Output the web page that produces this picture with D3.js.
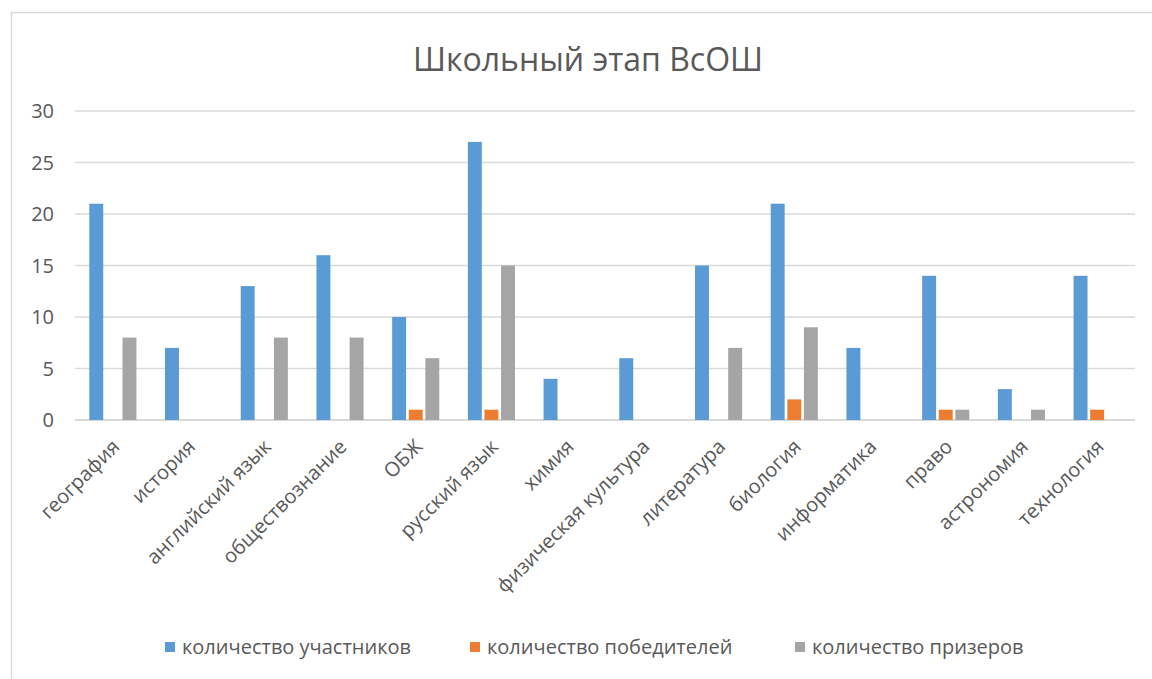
<!DOCTYPE html>
<html>
<head>
<meta charset="utf-8">
<style>
  body { margin: 0; background: #fff; }
  text { font-family: "Open Sans", sans-serif; fill: #595959; }
</style>
</head>
<body>
<svg width="1152" height="679"></svg>
<script src="https://d3js.org/d3.v7.min.js"></script>
<script>
    var categories = ["география", "история", "английский язык", "обществознание", "ОБЖ",
        "русский язык", "химия", "физическая культура", "литература", "биология",
        "информатика", "право", "астрономия", "технология"];
    var seriesNames = ["количество участников", "количество победителей", "количество призеров"];
    var participants = [21, 7, 13, 16, 10, 27, 4, 6, 15, 21, 7, 14, 3, 14];
    var winners = [0, 0, 0, 0, 1, 1, 0, 0, 0, 2, 0, 1, 0, 1];
    var prizewinners = [8, 0, 8, 8, 6, 15, 0, 0, 7, 9, 0, 1, 1, 0];
    var yTicks = [0, 5, 10, 15, 20, 25, 30];
    var colors = ["#5b9bd5", "#ed7d31", "#a5a5a5"];

    var svg = d3.select("svg");
    var series = [participants, winners, prizewinners];

    // chart frame
    svg.append("rect")
        .attr("x", 11.5).attr("y", 12.5)
        .attr("width", 1150).attr("height", 680)
        .attr("fill", "none")
        .attr("stroke", "#d9d9d9")
        .attr("stroke-width", 1.5);

    var plotLeft = 75, plotRight = 1135, plotTop = 111, plotBottom = 420;

    var x = d3.scaleBand().domain(categories).range([plotLeft, plotRight]);
    var xs = d3.scaleBand().domain([0, 1, 2])
        .range([14.3, x.bandwidth() - 14.3])
        .paddingInner(0.16);
    var y = d3.scaleLinear().domain([0, 30]).range([plotBottom, plotTop]);

    // grid
    svg.append("g").selectAll("line")
        .data(yTicks)
        .join("line")
        .attr("x1", plotLeft).attr("x2", plotRight)
        .attr("y1", d => y(d)).attr("y2", d => y(d))
        .attr("stroke", "#d9d9d9")
        .attr("stroke-width", d => d == 0 ? 2 : 1.3);

    // y labels
    svg.append("g").selectAll("text")
        .data(yTicks)
        .join("text")
        .attr("x", 54).attr("y", d => y(d))
        .attr("dy", "0.35em")
        .attr("text-anchor", "end")
        .style("font-size", "20px")
        .text(d => d);

    // bars
    series.forEach(function(vals, s) {
        svg.append("g").selectAll("rect")
            .data(vals)
            .join("rect")
            .attr("x", (d, i) => x(categories[i]) + xs(s))
            .attr("y", d => y(d))
            .attr("width", xs.bandwidth())
            .attr("height", d => y(0) - y(d))
            .attr("fill", colors[s]);
    });

    // category labels
    svg.append("g").selectAll("text")
        .data(categories)
        .join("text")
        .attr("transform", d => "translate(" + (x(d) + x.bandwidth() / 2 + 3) + "," + 443 + ") rotate(-45)")
        .attr("text-anchor", "end")
        .attr("dy", "0.35em")
        .style("font-size", "20px")
        .text(d => d);

    // title
    svg.append("text")
        .attr("x", 588).attr("y", 71)
        .attr("text-anchor", "middle")
        .style("font-size", "32px")
        .text("Школьный этап ВсОШ");

    // legend
    var legendX = [165, 470, 795];
    var lg = svg.append("g").selectAll("g")
        .data(seriesNames)
        .join("g")
        .attr("transform", (d, i) => "translate(" + legendX[i] + ",647)");
    lg.append("rect")
        .attr("x", 0).attr("y", -5)
        .attr("width", 10).attr("height", 10)
        .attr("fill", (d, i) => colors[i]);
    lg.append("text")
        .attr("x", 17).attr("dy", "0.35em")
        .style("font-size", "20px")
        .text(d => d);
</script>
</body>
</html>
